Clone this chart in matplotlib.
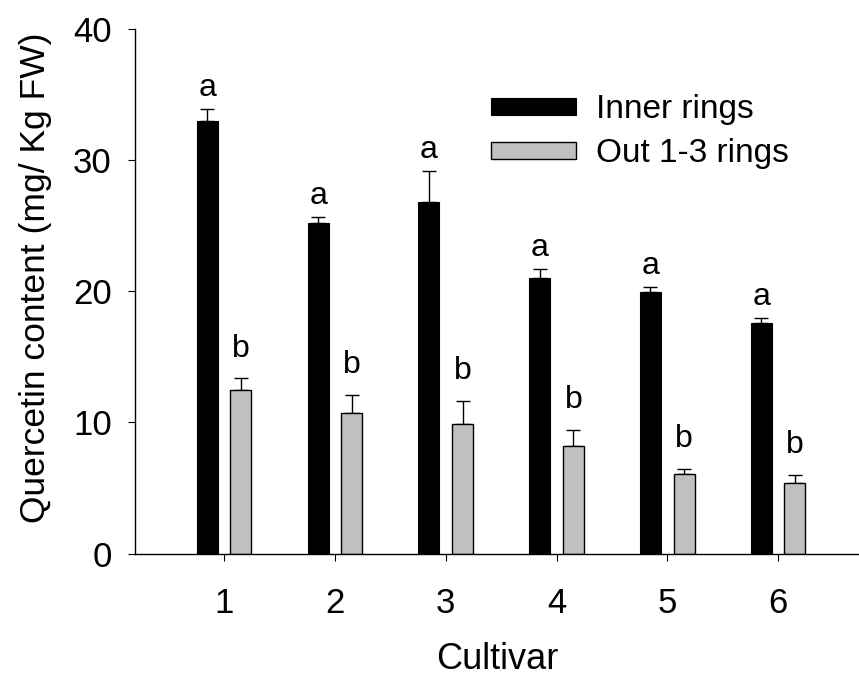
import matplotlib
matplotlib.use("Agg")
import matplotlib.pyplot as plt
import numpy as np

plt.rcParams['font.family'] = ['Liberation Sans', 'DejaVu Sans']

cultivars = [1, 2, 3, 4, 5, 6]
inner = [33.0, 25.2, 26.8, 21.0, 19.9, 17.6]
inner_err = [0.85, 0.42, 2.33, 0.69, 0.43, 0.36]
outer = [12.5, 10.75, 9.85, 8.2, 6.1, 5.35]
outer_err = [0.88, 1.35, 1.8, 1.24, 0.38, 0.66]
inner_letters = ["a"] * 6
outer_letters = ["b"] * 6

x = np.array(cultivars, dtype=float)
w = 0.19
off = 0.152

fig = plt.figure(figsize=(8.59, 6.77), dpi=100)
ax = fig.add_axes([0.1577, 0.1822, 0.8423, 0.7754])

ax.bar(x - off, inner, w, color="black", edgecolor="black", linewidth=0.8,
       label="Inner rings", zorder=2)
ax.bar(x + off, outer, w, color="#c0c0c0", edgecolor="black", linewidth=1.0,
       label="Out 1-3 rings", zorder=2)
ax.errorbar(x - off, inner, yerr=[np.zeros(6), inner_err], fmt="none",
            ecolor="black", elinewidth=1.0, capsize=5.3, capthick=1.0, zorder=1)
ax.errorbar(x + off, outer, yerr=[np.zeros(6), outer_err], fmt="none",
            ecolor="black", elinewidth=1.0, capsize=5.3, capthick=1.0, zorder=1)

# significance letters above the error bars
for xi, v, e, t in zip(x - off, inner, inner_err, inner_letters):
    ax.annotate(t, (xi, v + e), xytext=(0, 9.5), textcoords="offset points",
                ha="center", va="baseline", fontsize=23)
for xi, v, e, t in zip(x + off, outer, outer_err, outer_letters):
    ax.annotate(t, (xi, v + e), xytext=(0, 15.5), textcoords="offset points",
                ha="center", va="baseline", fontsize=23)

ax.set_xlim(0.2, 6.73)
ax.set_ylim(0, 40)
ax.set_xticks(cultivars)
ax.set_yticks([0, 10, 20, 30, 40])
ax.spines["top"].set_visible(False)
ax.spines["right"].set_visible(False)
for s in ["left", "bottom"]:
    ax.spines[s].set_linewidth(1.0)
ax.tick_params(axis="both", direction="out", length=5, width=0.8, labelsize=25)
ax.tick_params(axis="y", pad=12)
ax.tick_params(axis="x", pad=19)

ax.set_xlabel("Cultivar", fontsize=26, labelpad=16)
ax.set_ylabel("Quercetin content (mg/ Kg FW)", fontsize=25.5)
ax.yaxis.set_label_coords(-0.115, 0.526)

ax.legend(loc="upper left", bbox_to_anchor=(0.491, 0.875), frameon=False,
          fontsize=24, handlelength=2.55, handleheight=0.39,
          handletextpad=0.62, labelspacing=0.39, borderaxespad=0, borderpad=0)

fig.savefig("out.png", dpi=100)
